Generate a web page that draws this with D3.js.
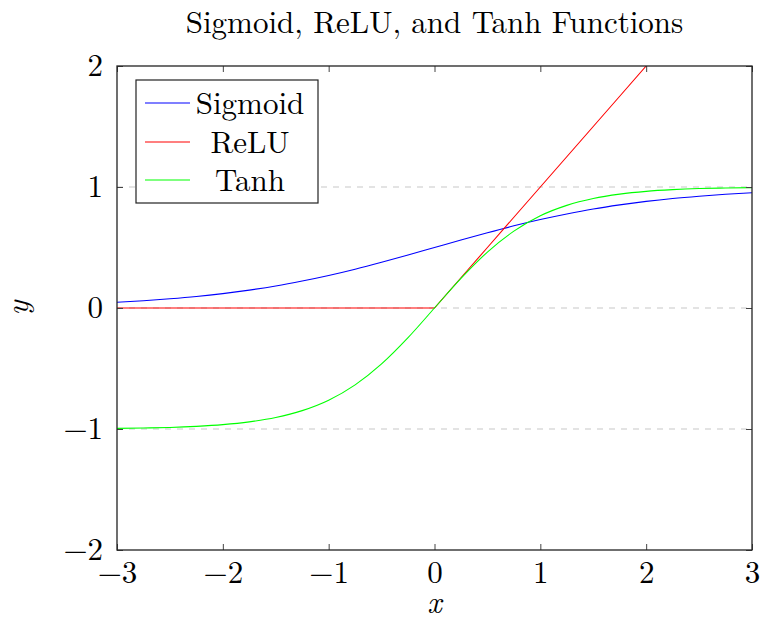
<!DOCTYPE html>
<html>
<head>
<meta charset="utf-8">
<script src="https://cdn.jsdelivr.net/npm/d3@7/dist/d3.min.js"></script>
<style>
  html, body { margin: 0; padding: 0; background: #fff; }
  svg { display: block; }
</style>
</head>
<body>
<svg id="chart" width="762" height="618"></svg>
<script>
// Sample positions along x
const xValues = [-3, -2.75, -2.5, -2.25, -2, -1.75, -1.5, -1.25, -1, -0.75, -0.5, -0.25,
                 0, 0.25, 0.5, 0.75, 1, 1.25, 1.5, 1.75, 2, 2.25, 2.5, 2.75, 3];

const sigmoidValues = [0.047, 0.060, 0.076, 0.095, 0.119, 0.148, 0.182, 0.223, 0.269, 0.321, 0.378, 0.438,
                       0.500, 0.562, 0.622, 0.679, 0.731, 0.777, 0.818, 0.852, 0.881, 0.905, 0.924, 0.940, 0.953];

const reluValues = [0, 0, 0, 0, 0, 0, 0, 0, 0, 0, 0, 0,
                    0, 0.25, 0.5, 0.75, 1, 1.25, 1.5, 1.75, 2, 2.25, 2.5, 2.75, 3];

const tanhValues = [-0.995, -0.992, -0.987, -0.978, -0.964, -0.941, -0.905, -0.848, -0.762, -0.635, -0.462, -0.245,
                    0, 0.245, 0.462, 0.635, 0.762, 0.848, 0.905, 0.941, 0.964, 0.978, 0.987, 0.992, 0.995];

const seriesNames = ["Sigmoid", "ReLU", "Tanh"];
const seriesColors = ["#0000ff", "#ff0000", "#00ff00"];

const xTicks = [-3, -2, -1, 0, 1, 2, 3];
const yTicks = [-2, -1, 0, 1, 2];
const gridLevels = [-1, 0, 1];

const titleText = "Sigmoid, ReLU, and Tanh Functions";

const FONT = "'Latin Modern Roman', 'Liberation Serif', serif";

const svg = d3.select("#chart");
const plotLeft = 117, plotRight = 752, plotTop = 66, plotBottom = 550;

const x = d3.scaleLinear().domain([-3, 3]).range([plotLeft, plotRight]);
const y = d3.scaleLinear().domain([-2, 2]).range([plotBottom, plotTop]);

const fmt = v => v < 0 ? "\u2212" + Math.abs(v) : String(v);

// Clip region for curves
svg.append("clipPath").attr("id", "plot-clip")
  .append("rect")
  .attr("x", plotLeft).attr("y", plotTop)
  .attr("width", plotRight - plotLeft).attr("height", plotBottom - plotTop);

// Dashed horizontal grid
svg.append("g")
  .selectAll("line")
  .data(gridLevels)
  .join("line")
  .attr("x1", plotLeft).attr("x2", plotRight)
  .attr("y1", d => y(d)).attr("y2", d => y(d))
  .attr("stroke", "#c8c8c8")
  .attr("stroke-width", 1.2)
  .attr("stroke-dasharray", "6,6");

// Curves
const series = [sigmoidValues, reluValues, tanhValues].map((vals, i) => ({
  name: seriesNames[i],
  color: seriesColors[i],
  points: xValues.map((xv, j) => [xv, vals[j]])
}));

const line = d3.line()
  .x(d => x(d[0]))
  .y(d => y(d[1]))
  .curve(d3.curveMonotoneX);

const reluLine = d3.line()
  .x(d => x(d[0]))
  .y(d => y(d[1]))
  .curve(d3.curveLinear);

svg.append("g").attr("clip-path", "url(#plot-clip)")
  .selectAll("path")
  .data(series)
  .join("path")
  .attr("fill", "none")
  .attr("stroke", d => d.color)
  .attr("stroke-width", 1.1)
  .attr("d", d => (d.name === "ReLU" ? reluLine : line)(d.points));

// Axes with inward ticks on all four sides
const tickLen = 6;
const axisBottom = d3.axisBottom(x).tickValues(xTicks).tickSize(-tickLen).tickPadding(10).tickFormat(fmt);
const axisTop = d3.axisTop(x).tickValues(xTicks).tickSize(-tickLen).tickFormat("");
const axisLeft = d3.axisLeft(y).tickValues(yTicks).tickSize(-tickLen).tickPadding(14).tickFormat(fmt);
const axisRight = d3.axisRight(y).tickValues(yTicks).tickSize(-tickLen).tickFormat("");

function styleAxis(g) {
  g.select(".domain").remove();
  g.selectAll(".tick line").attr("stroke", "#444").attr("stroke-width", 1);
  g.selectAll(".tick text")
    .style("font-family", FONT)
    .style("font-size", "31px")
    .style("fill", "#000");
}

svg.append("g").attr("transform", `translate(0,${plotBottom})`).call(axisBottom).call(styleAxis)
  .selectAll(".tick text").attr("dy", "0.75em");
svg.append("g").attr("transform", `translate(0,${plotTop})`).call(axisTop).call(styleAxis);
svg.append("g").attr("transform", `translate(${plotLeft},0)`).call(axisLeft).call(styleAxis);
svg.append("g").attr("transform", `translate(${plotRight},0)`).call(axisRight).call(styleAxis);

// Frame
svg.append("rect")
  .attr("x", plotLeft).attr("y", plotTop)
  .attr("width", plotRight - plotLeft).attr("height", plotBottom - plotTop)
  .attr("fill", "none")
  .attr("stroke", "#222")
  .attr("stroke-width", 1.3);

// Title
svg.append("text")
  .attr("x", (plotLeft + plotRight) / 2)
  .attr("y", 33)
  .attr("text-anchor", "middle")
  .style("font-family", FONT)
  .style("font-size", "31px")
  .text(titleText);

// Axis labels
svg.append("text")
  .attr("x", (plotLeft + plotRight) / 2)
  .attr("y", 613)
  .attr("text-anchor", "middle")
  .style("font-family", FONT)
  .style("font-size", "31px")
  .style("font-style", "italic")
  .text("x");

svg.append("text")
  .attr("transform", `translate(28,${(plotTop + plotBottom) / 2}) rotate(-90)`)
  .attr("text-anchor", "middle")
  .style("font-family", FONT)
  .style("font-size", "31px")
  .style("font-style", "italic")
  .text("y");

// Legend
const legend = svg.append("g");
legend.append("rect")
  .attr("x", 136).attr("y", 80)
  .attr("width", 182).attr("height", 123)
  .attr("fill", "#fff")
  .attr("stroke", "#222")
  .attr("stroke-width", 1.2);

const legendRows = [103, 142, 180];
const items = legend.selectAll("g.item")
  .data(series)
  .join("g")
  .attr("class", "item")
  .attr("transform", (d, i) => `translate(0,${legendRows[i]})`);

items.append("line")
  .attr("x1", 145).attr("x2", 190)
  .attr("y1", 0).attr("y2", 0)
  .attr("stroke", d => d.color)
  .attr("stroke-width", 1.1);

items.append("text")
  .attr("x", 250)
  .attr("y", 0)
  .attr("dy", "0.35em")
  .attr("text-anchor", "middle")
  .style("font-family", FONT)
  .style("font-size", "31px")
  .text(d => d.name);
</script>
</body>
</html>
